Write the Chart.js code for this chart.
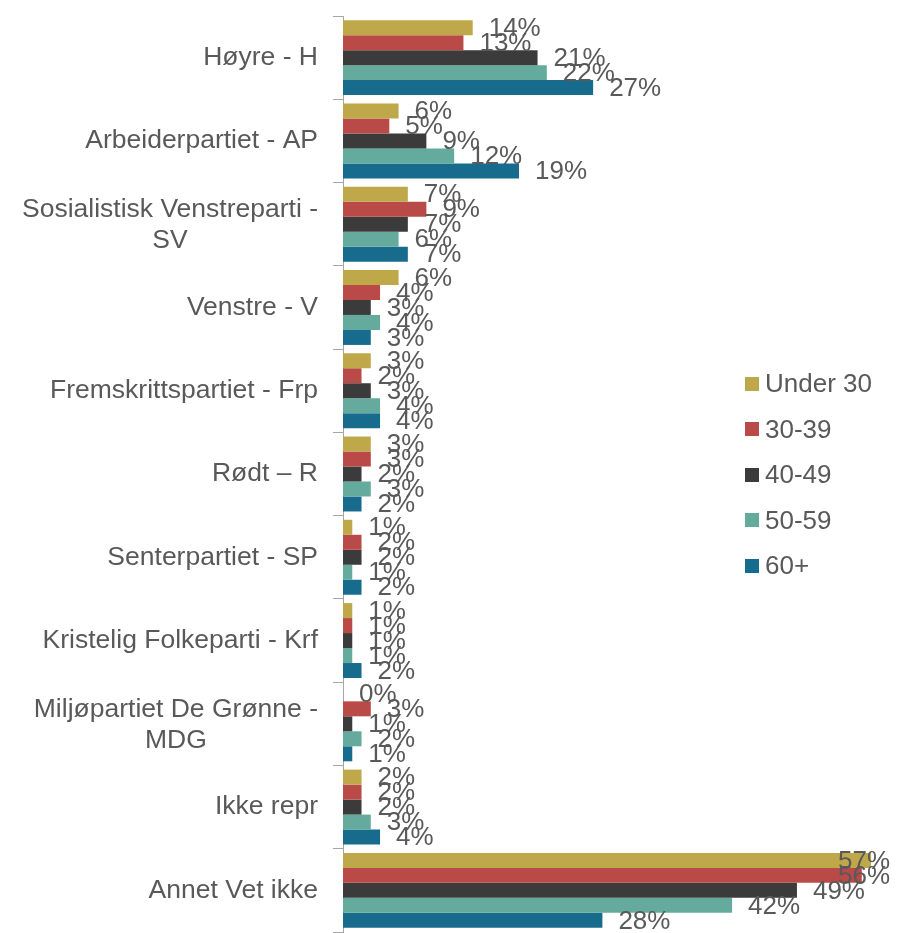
<!DOCTYPE html>
<html>
<head>
<meta charset="utf-8">
<script src="https://cdn.jsdelivr.net/npm/chart.js@4"></script>
<style>
  body { margin: 0; background: #fff; }
  #wrap { position: relative; width: 897px; height: 933px; }
  #legend { position: absolute; left: 745px; top: 361px; font: 26px "Liberation Sans", Arial, sans-serif; color: #595959; }
  #legend div { height: 45.5px; display: flex; align-items: center; }
  #legend span.sw { display: inline-block; width: 14px; height: 14px; margin-right: 6px; }
</style>
</head>
<body>
<div id="wrap">
  <canvas id="chart"></canvas>
  <div id="legend"></div>
</div>
<script>
const CATEGORIES = [
  ['Høyre - H'],
  ['Arbeiderpartiet - AP'],
  ['Sosialistisk Venstreparti -', 'SV'],
  ['Venstre - V'],
  ['Fremskrittspartiet - Frp'],
  ['Rødt – R'],
  ['Senterpartiet - SP'],
  ['Kristelig Folkeparti - Krf'],
  ['Miljøpartiet De Grønne -', 'MDG'],
  ['Ikke repr'],
  ['Annet Vet ikke'],
];

const SERIES_NAMES = ['Under 30', '30-39', '40-49', '50-59', '60+'];
const COLORS = ['#BEA84A', '#B94A47', '#3B3B3B', '#64AB9D', '#176C8E'];

const UNDER_30 = [14, 6, 7, 6, 3, 3, 1, 1, 0, 2, 57];
const AGE_30_39 = [13, 5, 9, 4, 2, 3, 2, 1, 3, 2, 56];
const AGE_40_49 = [21, 9, 7, 3, 3, 2, 2, 1, 1, 2, 49];
const AGE_50_59 = [22, 12, 6, 4, 4, 3, 1, 1, 2, 3, 42];
const AGE_60_PLUS = [27, 19, 7, 3, 4, 2, 2, 2, 1, 4, 28];

const SERIES = [UNDER_30, AGE_30_39, AGE_40_49, AGE_50_59, AGE_60_PLUS];

const FONT = '"Liberation Sans", Arial, sans-serif';
const TEXT = '#595959';

// ── Plugins ────────────────────────────────────────────────────────────────

const categoryLabels = {
  id: 'categoryLabels',
  afterDraw(chart) {
    const { ctx } = chart;
    const y = chart.scales.y;
    const right = 318;
    const lineH = 31;
    ctx.save();
    ctx.font = `26.5px ${FONT}`;
    ctx.fillStyle = TEXT;
    ctx.textAlign = 'center';
    ctx.textBaseline = 'middle';
    CATEGORIES.forEach((lines, i) => {
      const cy = y.getPixelForValue(i) + (lines.length > 1 ? 1 : 0);
      const w = Math.max(...lines.map(l => ctx.measureText(l).width));
      const cx = right - w / 2;
      const top = cy - (lines.length - 1) * lineH / 2;
      lines.forEach((l, j) => ctx.fillText(l, cx, top + j * lineH));
    });
    ctx.restore();
  },
};

// labels sit after the bar end, pushed back inside when they would overflow
const valueLabels = {
  id: 'valueLabels',
  afterDatasetsDraw(chart) {
    const { ctx } = chart;
    const limit = 890;
    ctx.save();
    ctx.font = `26px ${FONT}`;
    ctx.fillStyle = TEXT;
    ctx.textAlign = 'left';
    ctx.textBaseline = 'middle';
    chart.data.datasets.forEach((ds, di) => {
      chart.getDatasetMeta(di).data.forEach((el, i) => {
        const txt = `${ds.data[i]}%`;
        const w = ctx.measureText(txt).width;
        const x = Math.min(el.x + 16, limit - w);
        ctx.fillText(txt, x, el.y + 1);
      });
    });
    ctx.restore();
  },
};

// ── Chart ──────────────────────────────────────────────────────────────────

new Chart(document.getElementById('chart'), {
  type: 'bar',
  data: {
    labels: CATEGORIES.map(l => l.join(' ')),
    datasets: SERIES.map((data, i) => ({
      label: SERIES_NAMES[i],
      data,
      backgroundColor: COLORS[i],
      categoryPercentage: 0.9,
      barPercentage: 1.0,
    })),
  },
  options: {
    indexAxis: 'y',
    responsive: true, maintainAspectRatio: false,
    animation: false,
    layout: { padding: { left: 333, top: 16, bottom: 1, right: 0 } },
    plugins: { legend: { display: false }, tooltip: { enabled: false } },
    scales: {
      x: { display: false, min: 0, max: 59.8 },
      y: {
        ticks: { display: false },
        grid: { drawOnChartArea: false, drawTicks: true, tickLength: 10, color: '#A6A6A6', offset: true },
        border: { display: true, color: '#A6A6A6' },
      },
    },
  },
  plugins: [categoryLabels, valueLabels],
});

document.getElementById('legend').innerHTML = SERIES_NAMES.map((n, i) =>
  `<div><span class="sw" style="background:${COLORS[i]}"></span>${n}</div>`).join('');
</script>
</body>
</html>
